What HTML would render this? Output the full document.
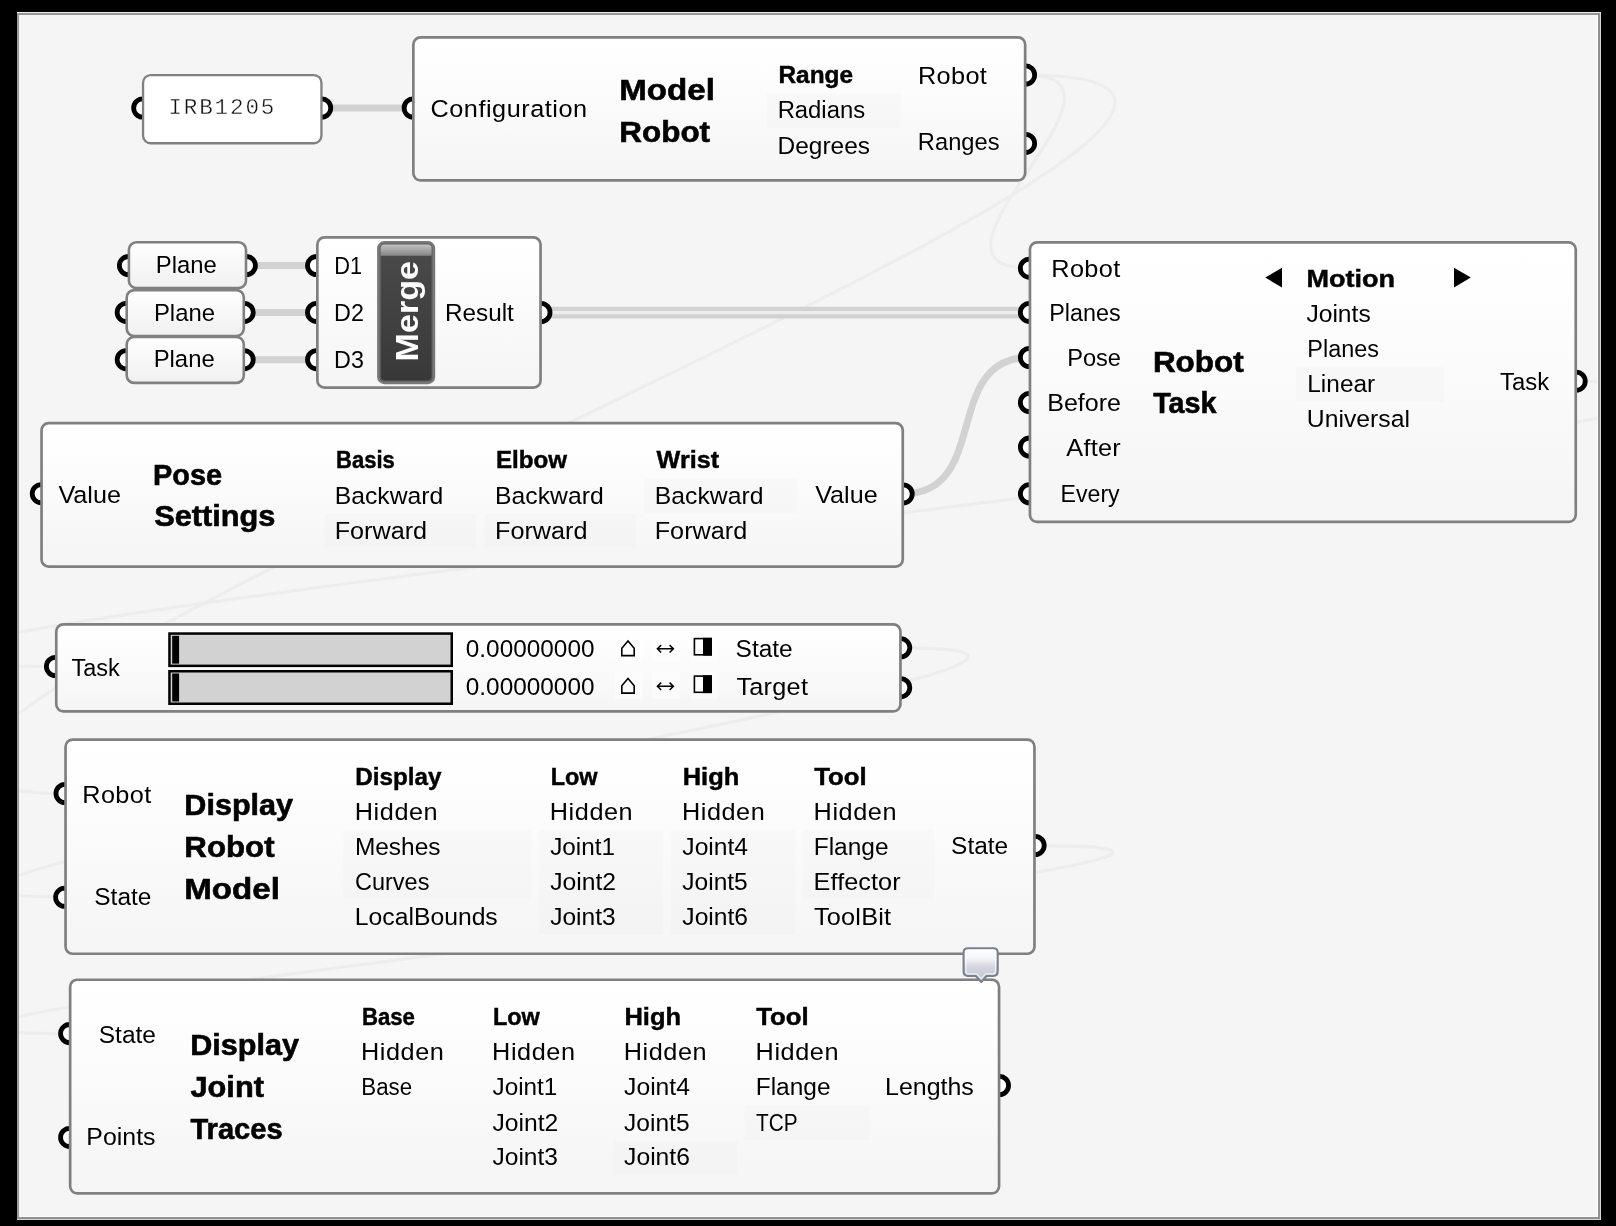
<!DOCTYPE html>
<html><head><meta charset="utf-8"><title>Grasshopper canvas</title>
<style>html,body{margin:0;padding:0;background:#000;overflow:hidden}svg{display:block}text{white-space:pre}</style>
</head><body>
<svg width="1616" height="1226" viewBox="0 0 1616 1226" font-family='"Liberation Sans", sans-serif'>
<defs>
<linearGradient id="cg" x1="0" y1="0" x2="0" y2="1"><stop offset="0" stop-color="#ffffff"/><stop offset="0.15" stop-color="#fefefe"/><stop offset="1" stop-color="#f5f5f5"/></linearGradient>
<linearGradient id="pg" x1="0" y1="0" x2="0" y2="1"><stop offset="0" stop-color="#ffffff"/><stop offset="1" stop-color="#f0f0f0"/></linearGradient>
<linearGradient id="mg" x1="0" y1="0" x2="0" y2="1"><stop offset="0" stop-color="#4b4b4b"/><stop offset="1" stop-color="#383838"/></linearGradient>
<linearGradient id="mh" x1="0" y1="0" x2="0" y2="1"><stop offset="0" stop-color="#c2c2c2"/><stop offset="1" stop-color="#858585"/></linearGradient>
<linearGradient id="bb" x1="0" y1="0" x2="0" y2="1"><stop offset="0" stop-color="#ffffff"/><stop offset="0.3" stop-color="#f4f5f8"/><stop offset="0.55" stop-color="#d4d6e0"/><stop offset="1" stop-color="#bfc2d2"/></linearGradient>
</defs>
<rect x="0" y="0" width="1616" height="1226" fill="#000"/>
<rect x="17" y="12" width="1584" height="1208" fill="#f5f5f5"/>
<clipPath id="cv"><rect x="19" y="15" width="1578" height="1201"/></clipPath>
<g clip-path="url(#cv)">
<path d="M1025.5 75 C1158.5 75 896.5 268.2 1029.5 268.2" fill="none" stroke="#ededed" stroke-width="3.2"/>
<path d="M1025.5 75 C1555.5 75 -464.9 793.5 65.1 793.5" fill="none" stroke="#ededed" stroke-width="3.2"/>
<path d="M1576.2 381.2 C2336.5 381.2 -704.7 666.5 55.6 666.5" fill="none" stroke="#ededed" stroke-width="3.2"/>
<path d="M900.8 647.8 C1318.6 647.8 -352.8 897 65.1 897" fill="none" stroke="#ededed" stroke-width="3.2"/>
<path d="M1034.9 845.7 C1517.6 845.7 -413.1 1033.6 69.6 1033.6" fill="none" stroke="#ededed" stroke-width="3.2"/>
</g>
<rect x="17" y="12" width="1584" height="1" fill="#ececec"/>
<rect x="17" y="13" width="1584" height="2" fill="#969696"/>
<rect x="17" y="13" width="2" height="1207" fill="#9a9a9a"/>
<rect x="1597" y="15" width="1" height="1202" fill="#fcfcfc"/>
<rect x="19" y="1216" width="1579" height="1" fill="#fcfcfc"/>
<rect x="1598" y="13" width="2" height="1206" fill="#909090"/>
<rect x="17" y="1217" width="1583" height="2" fill="#909090"/>
<rect x="1600" y="12" width="1" height="1208" fill="#d4d4d4"/>
<rect x="17" y="1219" width="1584" height="1" fill="#d2d2d2"/>
<path d="M322 107.9 L413 107.9" fill="none" stroke="#d2d2d2" stroke-width="7.0" stroke-linecap="butt"/>
<path d="M247.3 265.6 L317 265.6" fill="none" stroke="#d2d2d2" stroke-width="7.0" stroke-linecap="butt"/>
<path d="M245.1 312.4 L317 312.4" fill="none" stroke="#d2d2d2" stroke-width="7.0" stroke-linecap="butt"/>
<path d="M245.1 359.7 L317 359.7" fill="none" stroke="#d2d2d2" stroke-width="7.0" stroke-linecap="butt"/>
<path d="M541 312.7 L1029 312.7" fill="none" stroke="#d2d2d2" stroke-width="11.7" stroke-linecap="butt"/>
<path d="M552 312.6 L1018 312.6" fill="none" stroke="#ececec" stroke-width="3.1" stroke-linecap="butt"/>
<path d="M903.2 493.9 C991.2 493.9 941.5 357.5 1029.5 357.5" fill="none" stroke="#d2d2d2" stroke-width="7.0" stroke-linecap="butt"/>
<circle cx="142.75" cy="108.0" r="9.1" fill="#fff" stroke="#000" stroke-width="4.8"/>
<circle cx="321.65000000000003" cy="108.0" r="9.1" fill="#fff" stroke="#000" stroke-width="4.8"/>
<circle cx="413.2" cy="108.0" r="9.1" fill="#fff" stroke="#000" stroke-width="4.8"/>
<circle cx="1025.55" cy="75.0" r="9.1" fill="#fff" stroke="#000" stroke-width="4.8"/>
<circle cx="1025.55" cy="143.4" r="9.1" fill="#fff" stroke="#000" stroke-width="4.8"/>
<circle cx="128.45" cy="265.6" r="9.1" fill="#fff" stroke="#000" stroke-width="4.8"/>
<circle cx="246.35000000000002" cy="265.6" r="9.1" fill="#fff" stroke="#000" stroke-width="4.8"/>
<circle cx="126.25" cy="312.4" r="9.1" fill="#fff" stroke="#000" stroke-width="4.8"/>
<circle cx="244.15" cy="312.4" r="9.1" fill="#fff" stroke="#000" stroke-width="4.8"/>
<circle cx="126.25" cy="359.7" r="9.1" fill="#fff" stroke="#000" stroke-width="4.8"/>
<circle cx="244.15" cy="359.7" r="9.1" fill="#fff" stroke="#000" stroke-width="4.8"/>
<circle cx="316.6" cy="265.6" r="9.1" fill="#fff" stroke="#000" stroke-width="4.8"/>
<circle cx="316.6" cy="312.4" r="9.1" fill="#fff" stroke="#000" stroke-width="4.8"/>
<circle cx="316.6" cy="359.7" r="9.1" fill="#fff" stroke="#000" stroke-width="4.8"/>
<circle cx="540.9499999999999" cy="312.5" r="9.1" fill="#fff" stroke="#000" stroke-width="4.8"/>
<circle cx="1029.4499999999998" cy="268.2" r="9.1" fill="#fff" stroke="#000" stroke-width="4.8"/>
<circle cx="1029.4499999999998" cy="312.4" r="9.1" fill="#fff" stroke="#000" stroke-width="4.8"/>
<circle cx="1029.4499999999998" cy="357.5" r="9.1" fill="#fff" stroke="#000" stroke-width="4.8"/>
<circle cx="1029.4499999999998" cy="402.5" r="9.1" fill="#fff" stroke="#000" stroke-width="4.8"/>
<circle cx="1029.4499999999998" cy="447.1" r="9.1" fill="#fff" stroke="#000" stroke-width="4.8"/>
<circle cx="1029.4499999999998" cy="493.8" r="9.1" fill="#fff" stroke="#000" stroke-width="4.8"/>
<circle cx="1576.1499999999999" cy="381.2" r="9.1" fill="#fff" stroke="#000" stroke-width="4.8"/>
<circle cx="41.300000000000004" cy="493.7" r="9.1" fill="#fff" stroke="#000" stroke-width="4.8"/>
<circle cx="903.15" cy="493.9" r="9.1" fill="#fff" stroke="#000" stroke-width="4.8"/>
<circle cx="55.5" cy="666.5" r="9.1" fill="#fff" stroke="#000" stroke-width="4.8"/>
<circle cx="900.6999999999999" cy="647.8" r="9.1" fill="#fff" stroke="#000" stroke-width="4.8"/>
<circle cx="900.6999999999999" cy="687.7" r="9.1" fill="#fff" stroke="#000" stroke-width="4.8"/>
<circle cx="65.05" cy="793.5" r="9.1" fill="#fff" stroke="#000" stroke-width="4.8"/>
<circle cx="64.7" cy="897.3" r="9.1" fill="#fff" stroke="#000" stroke-width="4.8"/>
<circle cx="1035.1" cy="845.5" r="9.1" fill="#fff" stroke="#000" stroke-width="4.8"/>
<circle cx="69.64999999999999" cy="1033.6" r="9.1" fill="#fff" stroke="#000" stroke-width="4.8"/>
<circle cx="69.64999999999999" cy="1137.4" r="9.1" fill="#fff" stroke="#000" stroke-width="4.8"/>
<circle cx="999.4499999999999" cy="1085.5" r="9.1" fill="#fff" stroke="#000" stroke-width="4.8"/>
<rect x="143.05" y="75.05000000000001" width="178.40000000000003" height="68.19999999999999" rx="7.6" ry="7.6" fill="#fff" stroke="#808080" stroke-width="2.3"/>
<rect x="413.35" y="37.45" width="611.8000000000001" height="143.0" rx="7.1" ry="7.1" fill="url(#cg)" stroke="#808080" stroke-width="2.7"/>
<rect x="766.4" y="93.1" width="134.70000000000005" height="34.7" fill="#000" fill-opacity="0.011"/>
<rect x="128.9" y="242.3" width="117.1" height="45.799999999999955" rx="7.4" ry="7.4" fill="url(#pg)" stroke="#808080" stroke-width="2.6"/>
<rect x="126.7" y="290.1" width="117.09999999999998" height="45.89999999999998" rx="7.4" ry="7.4" fill="url(#pg)" stroke="#808080" stroke-width="2.6"/>
<rect x="126.7" y="336.90000000000003" width="117.09999999999998" height="45.99999999999994" rx="7.4" ry="7.4" fill="url(#pg)" stroke="#808080" stroke-width="2.6"/>
<rect x="317.35" y="237.35" width="223.19999999999993" height="150.19999999999996" rx="7.1" ry="7.1" fill="url(#cg)" stroke="#808080" stroke-width="2.7"/>
<rect x="378.4" y="242.3" width="55.5" height="140.6" rx="6" ry="6" fill="url(#mg)" stroke="#787878" stroke-width="2.6"/>
<rect x="380.2" y="244.1" width="51.9" height="137" rx="4.6" ry="4.6" fill="none" stroke="#8e8e8e" stroke-opacity="0.55" stroke-width="1"/>
<path d="M380.7 255.8 L380.7 248.6 Q380.7 244.6 384.7 244.6 L427.6 244.6 Q431.6 244.6 431.6 248.6 L431.6 255.8 Z" fill="url(#mh)"/>
<rect x="1029.9499999999998" y="242.35" width="545.8000000000002" height="279.5999999999999" rx="7.1" ry="7.1" fill="url(#cg)" stroke="#808080" stroke-width="2.7"/>
<rect x="1296" y="366.7" width="148" height="35.10000000000002" fill="#000" fill-opacity="0.011"/>
<path d="M1265.2 277.6 L1282 267.8 L1282 287.4 Z" fill="#000"/>
<path d="M1470.8 277.6 L1454 267.8 L1454 287.4 Z" fill="#000"/>
<rect x="41.550000000000004" y="423.15000000000003" width="861.2" height="143.49999999999994" rx="7.1" ry="7.1" fill="url(#cg)" stroke="#808080" stroke-width="2.7"/>
<rect x="324.6" y="514" width="151.89999999999998" height="33.60000000000002" fill="#000" fill-opacity="0.011"/>
<rect x="484.4" y="514" width="152.20000000000005" height="33.60000000000002" fill="#000" fill-opacity="0.011"/>
<rect x="644.1" y="478.5" width="153.29999999999995" height="34.700000000000045" fill="#000" fill-opacity="0.011"/>
<rect x="56.25" y="624.45" width="844.1999999999999" height="86.99999999999989" rx="7.1" ry="7.1" fill="url(#cg)" stroke="#808080" stroke-width="2.7"/>
<rect x="169.45" y="633.55" width="282.3" height="32.30000000000007" fill="#d2d2d2" stroke="#000" stroke-width="2.5"/>
<rect x="172.2" y="635.8" width="6.9" height="27.800000000000068" fill="#000"/>
<rect x="614.7" y="634.4" width="28.2" height="27.2" fill="#fff" fill-opacity="0.45"/>
<rect x="652.0" y="634.4" width="28.2" height="27.2" fill="#fff" fill-opacity="0.45"/>
<rect x="689.6" y="634.4" width="28.2" height="27.2" fill="#fff" fill-opacity="0.45"/>
<path d="M621.8 655.6 L621.8 648.2 L628.0 641.0 L634.2 648.2 L634.2 655.6 Z" fill="none" stroke="#000" stroke-width="1.6" stroke-linejoin="miter"/>
<path d="M657.4 648.8000000000001 L673.4 648.8000000000001 M661.2 645.1 L657.4 648.8000000000001 L661.2 652.5 M669.6 645.1 L673.4 648.8000000000001 L669.6 652.5" fill="none" stroke="#000" stroke-width="1.5"/>
<rect x="694.4" y="638.6" width="16.8" height="16.2" fill="#fff" stroke="#000" stroke-width="1.6"/>
<rect x="703.0" y="637.8000000000001" width="9.0" height="17.8" fill="#000"/>
<rect x="169.45" y="671.25" width="282.3" height="32.5" fill="#d2d2d2" stroke="#000" stroke-width="2.5"/>
<rect x="172.2" y="673.5" width="6.9" height="28.0" fill="#000"/>
<rect x="614.7" y="671.9" width="28.2" height="27.2" fill="#fff" fill-opacity="0.45"/>
<rect x="652.0" y="671.9" width="28.2" height="27.2" fill="#fff" fill-opacity="0.45"/>
<rect x="689.6" y="671.9" width="28.2" height="27.2" fill="#fff" fill-opacity="0.45"/>
<path d="M621.8 693.1 L621.8 685.7 L628.0 678.5 L634.2 685.7 L634.2 693.1 Z" fill="none" stroke="#000" stroke-width="1.6" stroke-linejoin="miter"/>
<path d="M657.4 686.3000000000001 L673.4 686.3000000000001 M661.2 682.6 L657.4 686.3000000000001 L661.2 690.0 M669.6 682.6 L673.4 686.3000000000001 L669.6 690.0" fill="none" stroke="#000" stroke-width="1.5"/>
<rect x="694.4" y="676.1" width="16.8" height="16.2" fill="#fff" stroke="#000" stroke-width="1.6"/>
<rect x="703.0" y="675.3000000000001" width="9.0" height="17.8" fill="#000"/>
<rect x="65.55" y="739.5500000000001" width="968.9000000000001" height="214.19999999999993" rx="7.1" ry="7.1" fill="url(#cg)" stroke="#808080" stroke-width="2.7"/>
<rect x="343.2" y="829.4" width="187.8" height="70.20000000000005" fill="#000" fill-opacity="0.011"/>
<rect x="538.7" y="829.4" width="124.89999999999998" height="105.20000000000005" fill="#000" fill-opacity="0.011"/>
<rect x="670.8" y="829.4" width="124.20000000000005" height="105.20000000000005" fill="#000" fill-opacity="0.011"/>
<rect x="802.5" y="829.4" width="131.70000000000005" height="70.20000000000005" fill="#000" fill-opacity="0.011"/>
<rect x="70.14999999999999" y="979.75" width="928.9" height="213.70000000000005" rx="7.1" ry="7.1" fill="url(#cg)" stroke="#808080" stroke-width="2.7"/>
<rect x="612.9" y="1141" width="124.5" height="34.40000000000009" fill="#000" fill-opacity="0.011"/>
<rect x="744.4" y="1105.5" width="125.5" height="34.5" fill="#000" fill-opacity="0.011"/>
<g style="will-change:transform">
<text transform="translate(430.46 117.00) scale(1.0400 1)" font-size="24.3" letter-spacing="0.514">Configuration</text>
<text transform="translate(619.19 99.90) scale(1.1041 1)" font-size="30.0" font-weight="700" stroke="#000" stroke-width="0.6">Model</text>
<text transform="translate(619.30 142.00) scale(1.0480 1)" font-size="30.0" font-weight="700" stroke="#000" stroke-width="0.6">Robot</text>
<text transform="translate(778.51 83.20) scale(1.0160 1)" font-size="24.0" font-weight="700" stroke="#000" stroke-width="0.45">Range</text>
<text transform="translate(777.64 118.20) scale(0.9817 1)" font-size="24.3">Radians</text>
<text transform="translate(777.59 153.50) scale(1.0068 1)" font-size="24.3">Degrees</text>
<text transform="translate(917.92 83.90) scale(1.0400 1)" font-size="24.3" letter-spacing="0.359">Robot</text>
<text transform="translate(917.85 150.00) scale(0.9755 1)" font-size="24.3">Ranges</text>
<text transform="translate(155.73 273.40) scale(0.9827 1)" font-size="24.3">Plane</text>
<text transform="translate(153.93 320.50) scale(0.9827 1)" font-size="24.3">Plane</text>
<text transform="translate(153.63 367.30) scale(0.9827 1)" font-size="24.3">Plane</text>
<text transform="translate(334.21 273.60) scale(0.8968 1)" font-size="24.3">D1</text>
<text transform="translate(334.08 320.50) scale(0.9598 1)" font-size="24.3">D2</text>
<text transform="translate(334.08 367.50) scale(0.9598 1)" font-size="24.3">D3</text>
<text transform="translate(445.00 320.50) scale(0.9997 1)" font-size="24.3">Result</text>
<text transform="translate(1051.32 276.90) scale(1.0400 1)" font-size="24.3" letter-spacing="0.359">Robot</text>
<text transform="translate(1049.28 321.40) scale(0.9606 1)" font-size="24.3">Planes</text>
<text transform="translate(1067.16 366.10) scale(0.9723 1)" font-size="24.3">Pose</text>
<text transform="translate(1047.24 411.10) scale(1.0308 1)" font-size="24.3">Before</text>
<text transform="translate(1066.30 455.70) scale(1.0400 1)" font-size="24.3" letter-spacing="0.224">After</text>
<text transform="translate(1060.60 501.70) scale(0.9515 1)" font-size="24.3">Every</text>
<text transform="translate(1152.90 371.60) scale(1.0480 1)" font-size="30.0" font-weight="700" stroke="#000" stroke-width="0.6">Robot</text>
<text transform="translate(1153.20 413.40) scale(0.9584 1)" font-size="30.0" font-weight="700" stroke="#000" stroke-width="0.6">Task</text>
<text transform="translate(1306.40 286.70) scale(1.1270 1)" font-size="24.0" font-weight="700" stroke="#000" stroke-width="0.45">Motion</text>
<text transform="translate(1306.40 321.70) scale(1.0139 1)" font-size="24.3">Joints</text>
<text transform="translate(1307.37 357.00) scale(0.9634 1)" font-size="24.3">Planes</text>
<text transform="translate(1307.29 392.20) scale(1.0054 1)" font-size="24.3">Linear</text>
<text transform="translate(1306.78 427.40) scale(1.0185 1)" font-size="24.3">Universal</text>
<text transform="translate(1500.00 390.20) scale(0.9821 1)" font-size="24.3">Task</text>
<text transform="translate(58.40 502.80) scale(1.0363 1)" font-size="24.3">Value</text>
<text transform="translate(152.97 484.90) scale(0.9635 1)" font-size="30.0" font-weight="700" stroke="#000" stroke-width="0.6">Pose</text>
<text transform="translate(154.20 526.20) scale(1.0250 1)" font-size="30.0" font-weight="700" stroke="#000" stroke-width="0.6">Settings</text>
<text transform="translate(336.11 468.30) scale(0.9179 1)" font-size="24.0" font-weight="700" stroke="#000" stroke-width="0.45">Basis</text>
<text transform="translate(334.66 503.60) scale(1.0187 1)" font-size="24.3">Backward</text>
<text transform="translate(334.63 538.70) scale(1.0374 1)" font-size="24.3">Forward</text>
<text transform="translate(495.92 468.30) scale(1.0051 1)" font-size="24.0" font-weight="700" stroke="#000" stroke-width="0.45">Elbow</text>
<text transform="translate(495.06 503.60) scale(1.0187 1)" font-size="24.3">Backward</text>
<text transform="translate(495.03 538.70) scale(1.0374 1)" font-size="24.3">Forward</text>
<text transform="translate(656.62 468.30) scale(1.0483 1)" font-size="24.0" font-weight="700" stroke="#000" stroke-width="0.45">Wrist</text>
<text transform="translate(654.76 503.60) scale(1.0187 1)" font-size="24.3">Backward</text>
<text transform="translate(654.73 538.70) scale(1.0374 1)" font-size="24.3">Forward</text>
<text transform="translate(815.20 502.80) scale(1.0363 1)" font-size="24.3">Value</text>
<text transform="translate(71.50 675.90) scale(0.9683 1)" font-size="24.3">Task</text>
<text transform="translate(465.80 657.00) scale(1.0027 1)" font-size="24.3">0.00000000</text>
<text transform="translate(465.80 694.50) scale(1.0027 1)" font-size="24.3">0.00000000</text>
<text transform="translate(735.59 657.00) scale(1.0069 1)" font-size="24.3">State</text>
<text transform="translate(736.40 694.60) scale(1.0400 1)" font-size="24.3" letter-spacing="0.252">Target</text>
<text transform="translate(82.32 802.70) scale(1.0400 1)" font-size="24.3" letter-spacing="0.359">Robot</text>
<text transform="translate(94.29 905.00) scale(1.0069 1)" font-size="24.3">State</text>
<text transform="translate(184.36 815.20) scale(1.0197 1)" font-size="30.0" font-weight="700" stroke="#000" stroke-width="0.6">Display</text>
<text transform="translate(184.32 856.90) scale(1.0421 1)" font-size="30.0" font-weight="700" stroke="#000" stroke-width="0.6">Robot</text>
<text transform="translate(184.19 898.70) scale(1.1041 1)" font-size="30.0" font-weight="700" stroke="#000" stroke-width="0.6">Model</text>
<text transform="translate(355.32 784.80) scale(1.0097 1)" font-size="24.0" font-weight="700" stroke="#000" stroke-width="0.45">Display</text>
<text transform="translate(354.82 819.80) scale(1.0400 1)" font-size="24.3" letter-spacing="0.534">Hidden</text>
<text transform="translate(354.89 854.90) scale(1.0069 1)" font-size="24.3">Meshes</text>
<text transform="translate(355.03 890.10) scale(0.9669 1)" font-size="24.3">Curves</text>
<text transform="translate(354.87 925.30) scale(1.0170 1)" font-size="24.3">LocalBounds</text>
<text transform="translate(550.65 784.80) scale(0.9774 1)" font-size="24.0" font-weight="700" stroke="#000" stroke-width="0.45">Low</text>
<text transform="translate(549.82 819.80) scale(1.0400 1)" font-size="24.3" letter-spacing="0.534">Hidden</text>
<text transform="translate(550.20 854.90) scale(0.9997 1)" font-size="24.3">Joint1</text>
<text transform="translate(550.20 890.10) scale(1.0152 1)" font-size="24.3">Joint2</text>
<text transform="translate(550.20 925.30) scale(1.0105 1)" font-size="24.3">Joint3</text>
<text transform="translate(682.66 784.80) scale(1.0617 1)" font-size="24.0" font-weight="700" stroke="#000" stroke-width="0.45">High</text>
<text transform="translate(681.92 819.80) scale(1.0400 1)" font-size="24.3" letter-spacing="0.534">Hidden</text>
<text transform="translate(682.30 854.90) scale(1.0152 1)" font-size="24.3">Joint4</text>
<text transform="translate(682.30 890.10) scale(1.0105 1)" font-size="24.3">Joint5</text>
<text transform="translate(682.30 925.30) scale(1.0152 1)" font-size="24.3">Joint6</text>
<text transform="translate(814.22 784.80) scale(1.0731 1)" font-size="24.0" font-weight="700" stroke="#000" stroke-width="0.45">Tool</text>
<text transform="translate(813.62 819.80) scale(1.0400 1)" font-size="24.3" letter-spacing="0.534">Hidden</text>
<text transform="translate(813.69 854.90) scale(1.0073 1)" font-size="24.3">Flange</text>
<text transform="translate(813.62 890.10) scale(1.0400 1)" font-size="24.3" letter-spacing="0.049">Effector</text>
<text transform="translate(814.00 925.30) scale(1.0400 1)" font-size="24.3" letter-spacing="0.192">ToolBit</text>
<text transform="translate(951.09 854.40) scale(1.0069 1)" font-size="24.3">State</text>
<text transform="translate(98.79 1043.00) scale(1.0069 1)" font-size="24.3">State</text>
<text transform="translate(86.35 1145.20) scale(1.0248 1)" font-size="24.3">Points</text>
<text transform="translate(190.16 1055.40) scale(1.0197 1)" font-size="30.0" font-weight="700" stroke="#000" stroke-width="0.6">Display</text>
<text transform="translate(190.40 1097.20) scale(1.0269 1)" font-size="30.0" font-weight="700" stroke="#000" stroke-width="0.6">Joint</text>
<text transform="translate(190.40 1139.00) scale(0.9704 1)" font-size="30.0" font-weight="700" stroke="#000" stroke-width="0.6">Traces</text>
<text transform="translate(361.90 1024.80) scale(0.9237 1)" font-size="24.0" font-weight="700" stroke="#000" stroke-width="0.45">Base</text>
<text transform="translate(361.02 1060.00) scale(1.0400 1)" font-size="24.3" letter-spacing="0.534">Hidden</text>
<text transform="translate(361.27 1095.20) scale(0.9174 1)" font-size="24.3">Base</text>
<text transform="translate(492.95 1024.80) scale(0.9774 1)" font-size="24.0" font-weight="700" stroke="#000" stroke-width="0.45">Low</text>
<text transform="translate(492.12 1060.00) scale(1.0400 1)" font-size="24.3" letter-spacing="0.534">Hidden</text>
<text transform="translate(492.50 1095.20) scale(0.9997 1)" font-size="24.3">Joint1</text>
<text transform="translate(492.50 1130.50) scale(1.0152 1)" font-size="24.3">Joint2</text>
<text transform="translate(492.50 1165.40) scale(1.0105 1)" font-size="24.3">Joint3</text>
<text transform="translate(624.46 1024.80) scale(1.0617 1)" font-size="24.0" font-weight="700" stroke="#000" stroke-width="0.45">High</text>
<text transform="translate(623.72 1060.00) scale(1.0400 1)" font-size="24.3" letter-spacing="0.534">Hidden</text>
<text transform="translate(624.10 1095.20) scale(1.0152 1)" font-size="24.3">Joint4</text>
<text transform="translate(624.10 1130.50) scale(1.0105 1)" font-size="24.3">Joint5</text>
<text transform="translate(624.10 1165.40) scale(1.0152 1)" font-size="24.3">Joint6</text>
<text transform="translate(756.22 1024.80) scale(1.0731 1)" font-size="24.0" font-weight="700" stroke="#000" stroke-width="0.45">Tool</text>
<text transform="translate(755.62 1060.00) scale(1.0400 1)" font-size="24.3" letter-spacing="0.534">Hidden</text>
<text transform="translate(755.69 1095.20) scale(1.0073 1)" font-size="24.3">Flange</text>
<text transform="translate(756.00 1130.50) scale(0.8568 1)" font-size="24.3">TCP</text>
<text transform="translate(885.05 1094.60) scale(1.0271 1)" font-size="24.3">Lengths</text>
<text transform="translate(417.5 361.4) rotate(-90) scale(1.10 1)" font-size="31" font-weight="700" fill="#fff">Merge</text>
<path d="M968.0 948.2 L993.3 948.2 Q997.7 948.2 997.7 952.6 L997.7 971.6 Q997.7 976.0 993.3 976.0 L986.6 976.0 L981.2 982.0 L975.8 976.0 L968.0 976.0 Q963.6 976.0 963.6 971.6 L963.6 952.6 Q963.6 948.2 968.0 948.2 Z" fill="url(#bb)" stroke="#78828e" stroke-width="2.1" stroke-linejoin="round"/>
<path d="M968.6 950.4 L992.7 950.4 Q995.5 950.4 995.5 953.2 L995.5 971.0 Q995.5 973.8 992.7 973.8 L985.6 973.8 L981.2 978.7 L976.8 973.8 L968.6 973.8 Q965.8 973.8 965.8 971.0 L965.8 953.2 Q965.8 950.4 968.6 950.4 Z" fill="none" stroke="#fff" stroke-opacity="0.7" stroke-width="1.2"/>
<text x="168.4" y="114.0" font-family='"Liberation Mono", monospace' font-size="22.6" letter-spacing="1.84" fill="#111" stroke="#fff" stroke-width="0.42">IRB1205</text>
</g>
</svg>
</body></html>
